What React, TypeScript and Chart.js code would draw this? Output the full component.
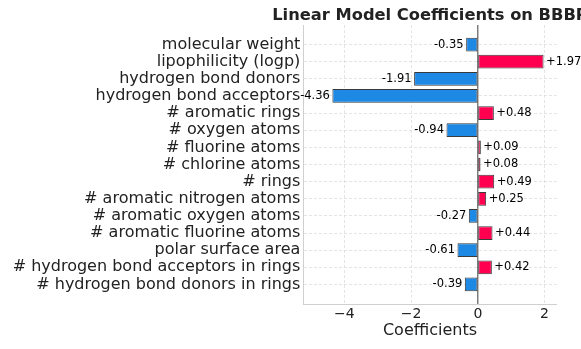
import React, { useEffect, useRef } from "react";
import { Chart, registerables } from "chart.js";

Chart.register(...registerables);

const features = [
  "molecular weight",
  "lipophilicity (logp)",
  "hydrogen bond donors",
  "hydrogen bond acceptors",
  "# aromatic rings",
  "# oxygen atoms",
  "# fluorine atoms",
  "# chlorine atoms",
  "# rings",
  "# aromatic nitrogen atoms",
  "# aromatic oxygen atoms",
  "# aromatic fluorine atoms",
  "polar surface area",
  "# hydrogen bond acceptors in rings",
  "# hydrogen bond donors in rings",
];
const coefficients = [
  -0.35, 1.97, -1.91, -4.36, 0.48, -0.94, 0.09, 0.08, 0.49, 0.25, -0.27, 0.44,
  -0.61, 0.42, -0.39,
];
const xTicks = [-4, -2, 0, 2];
const titleText = "Linear Model Coefficients on BBBP";
const xTitle = "Coefficients";

const POS = "#FF0051";
const NEG = "#1E88E5";
const FONT = "'DejaVu Sans', sans-serif";

export default function App() {
  const ref = useRef<HTMLCanvasElement | null>(null);
  useEffect(() => {
    if (!ref.current) return;
    const minV = Math.min(...coefficients) * 1.2;
    const maxV = Math.max(...coefficients) * 1.2;
    const n = features.length;

    const decor = {
      id: "decor",
      beforeDatasetsDraw(chart: any) {
        const { ctx, chartArea, scales } = chart;
        const x0 = scales.x.getPixelForValue(0);
        ctx.save();
        ctx.strokeStyle = "#444444";
        ctx.lineWidth = 1;
        ctx.beginPath();
        ctx.moveTo(x0, chartArea.top);
        ctx.lineTo(x0, chartArea.bottom);
        ctx.stroke();
        ctx.restore();
      },
      afterDatasetsDraw(chart: any) {
        const { ctx, chartArea } = chart;
        const meta = chart.getDatasetMeta(0);
        ctx.save();
        ctx.font = `11.5px ${FONT}`;
        ctx.fillStyle = "#000";
        ctx.textBaseline = "middle";
        meta.data.forEach((el: any, i: number) => {
          const v = coefficients[i];
          const txt = v >= 0 ? "+" + v.toFixed(2) : v.toFixed(2);
          if (v >= 0) {
            ctx.textAlign = "left";
            ctx.fillText(txt, el.x + 2.5, el.y);
          } else {
            ctx.textAlign = "right";
            ctx.fillText(txt, el.x - 2.5, el.y);
          }
        });
        // title
        ctx.font = `bold 16.3px ${FONT}`;
        ctx.fillStyle = "#222";
        ctx.textAlign = "center";
        ctx.textBaseline = "alphabetic";
        ctx.fillText(titleText, (chartArea.left + chartArea.right) / 2, 20);
        ctx.restore();
      },
    };

    const chart = new Chart(ref.current, {
      type: "bar",
      data: {
        datasets: [
          {
            data: coefficients.map((v, i) => ({ x: v, y: i })),
            backgroundColor: coefficients.map((v) => (v >= 0 ? POS : NEG)),
            borderColor: "#3a3a3a",
            borderWidth: 1,
            borderSkipped: false,
            categoryPercentage: 1,
            barPercentage: 0.8,
          },
        ],
      },
      options: {
        indexAxis: "y",
        animation: false,
        responsive: true,
        maintainAspectRatio: false,
        layout: { padding: { left: 0, right: 24.3, top: 25, bottom: 9 } },
        plugins: {
          legend: { display: false },
          tooltip: { enabled: false },
          title: { display: false },
        },
        scales: {
          x: {
            type: "linear",
            min: minV,
            max: maxV,
            offset: false,
            afterBuildTicks(scale: any) {
              scale.ticks = xTicks.map((v) => ({ value: v }));
            },
            afterFit(scale: any) {
              scale.height = 36;
            },
            grid: {
              color: "#dddddd",
              drawTicks: false,
              lineWidth: 0.8,
            },
            border: { display: true, color: "#d0d0d0", width: 1, dash: [3, 2] },
            ticks: {
              padding: 2,
              color: "#222",
              font: { family: FONT, size: 14 },
              callback: (v: any) =>
                Number(v) < 0 ? "\u2212" + Math.abs(Number(v)) : String(v),
            },
            title: {
              display: true,
              text: xTitle,
              color: "#222",
              font: { family: FONT, size: 16 },
              padding: { top: 0, bottom: 0 },
            },
          },
          y: {
            type: "linear",
            reverse: true,
            offset: false,
            min: -1.14,
            max: n - 1 + 1.14,
            afterBuildTicks(scale: any) {
              scale.ticks = features.map((_, i) => ({ value: i }));
            },
            afterFit(scale: any) {
              scale.width = 303.3;
            },
            grid: {
              color: "#dddddd",
              drawTicks: false,
              lineWidth: 0.8,
              offset: false,
            },
            border: { display: true, color: "#d0d0d0", width: 1, dash: [3, 2] },
            ticks: {
              padding: 3,
              color: "#222",
              autoSkip: false,
              font: { family: FONT, size: 16 },
              callback: (v: any) => features[Math.round(Number(v))] ?? "",
            },
          },
        },
      },
      plugins: [decor],
    } as any);
    return () => chart.destroy();
  }, []);

  return (
    <div style={{ position: "fixed", left: 0, top: 0, width: 581, height: 349 }}>
      <canvas ref={ref} />
    </div>
  );
}
